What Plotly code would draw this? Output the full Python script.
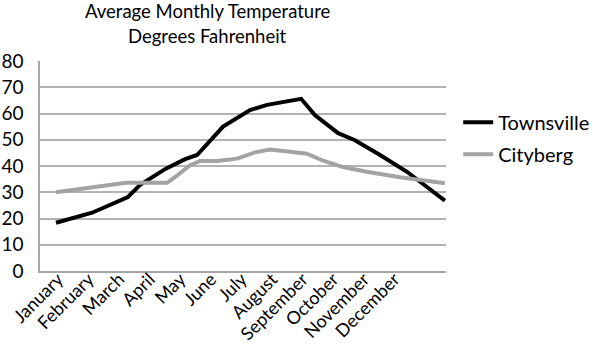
import plotly.graph_objects as go

months = ["January", "February", "March", "April", "May", "June", "July",
          "August", "September", "October", "November", "December"]
month_pos = list(range(12))

# Townsville: readings along the line (x in month-label units, value in °F)
town_x = [0.00, 1.18, 2.35, 2.75, 3.59, 4.22, 4.61, 5.46, 6.34, 6.90, 8.01,
          8.46, 9.22, 9.77, 10.59, 11.47, 12.71]
town_y = [18.4, 22.2, 28.2, 32.8, 39.0, 42.6, 44.2, 55.0, 61.3, 63.3, 65.6,
          59.4, 52.5, 49.8, 44.2, 37.8, 26.8]

# Cityberg
city_x = [0.00, 2.29, 3.63, 3.92, 4.38, 4.71, 5.26, 5.92, 6.50, 6.99, 7.65,
          8.20, 8.73, 9.38, 10.16, 11.24, 12.71]
city_y = [30.0, 33.6, 33.6, 36.0, 40.3, 41.9, 41.9, 42.8, 45.2, 46.3, 45.4,
          44.7, 42.0, 39.6, 37.8, 35.7, 33.4]

title_lines = ["Average Monthly Temperature", "Degrees Fahrenheit"]

FONT = "Lato"

fig = go.Figure()
fig.add_trace(go.Scatter(x=town_x, y=town_y, mode="lines", name="Townsville",
                         legendgroup="a",
                         line=dict(color="#000000", width=4)))
fig.add_trace(go.Scatter(x=city_x, y=city_y, mode="lines", name="Cityberg",
                         legendgroup="b",
                         line=dict(color="#a3a3a3", width=4)))

for i, t in enumerate(title_lines):
    fig.add_annotation(text=t, xref="paper", yref="paper",
                       x=0.413, y=1.238 - i * 0.119, xanchor="center",
                       yanchor="middle", showarrow=False,
                       font=dict(family=FONT, size=18.5, color="#000000"))

fig.update_layout(
    width=593, height=348,
    margin=dict(l=40, r=147, t=61, b=77, autoexpand=False),
    paper_bgcolor="white", plot_bgcolor="white",
    font=dict(family=FONT, size=18, color="#000000"),
    showlegend=True,
    legend=dict(x=1.03, xanchor="left", y=0.632, yanchor="middle",
                tracegroupgap=3, font=dict(size=20),
                bgcolor="rgba(0,0,0,0)"),
)
fig.update_xaxes(range=[-0.523, 12.745], tickvals=month_pos, ticktext=months,
                 tickangle=-45, showgrid=False, zeroline=False,
                 showline=True, linecolor="#a6a6a6", linewidth=1.5,
                 ticks="", tickfont=dict(size=18), automargin=False,
                 ticklabelstandoff=-11, ticklabelshift=2)
fig.update_yaxes(range=[0, 80], dtick=10, showgrid=True, gridcolor="#b3b3b3",
                 gridwidth=1.5, zeroline=False, showline=True,
                 linecolor="#a6a6a6", linewidth=1.5, ticks="",
                 ticklabelstandoff=11, tickfont=dict(size=19), automargin=False)

fig.write_html("out.html")
